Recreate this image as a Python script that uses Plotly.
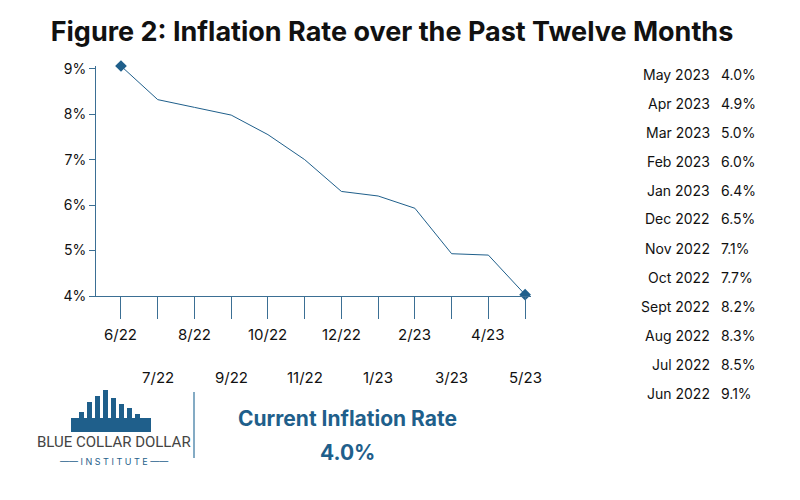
import plotly.graph_objects as go

months = ['6/22', '7/22', '8/22', '9/22', '10/22', '11/22', '12/22', '1/23', '2/23', '3/23', '4/23', '5/23']
rates = [9.06, 8.32, 8.15, 7.98, 7.55, 7.0, 6.3, 6.2, 5.93, 4.93, 4.9, 4.03]

table_labels = ['May 2023', 'Apr 2023', 'Mar 2023', 'Feb 2023', 'Jan 2023', 'Dec 2022',
                'Nov 2022', 'Oct 2022', 'Sept 2022', 'Aug 2022', 'Jul 2022', 'Jun 2022']
table_values = ['4.0%', '4.9%', '5.0%', '6.0%', '6.4%', '6.5%', '7.1%', '7.7%', '8.2%', '8.3%', '8.5%', '9.1%']

blue = '#1f5f8b'
xs = list(range(len(months)))

# plot area in pixels (shifted to compensate for render offset)
DX, DY = -7, -8
L, R, T, B = 95 + DX, 530 + DX, 66 + DY, 296 + DY


def px(x):
    return (x + DX - L) / (R - L)


def py(y):
    return (B - y - DY) / (B - T)


def note(x, y, text, size, color='#111', anchor='center', family=None):
    f = dict(size=size, color=color)
    if family:
        f['family'] = family
    fig.add_annotation(x=px(x), y=py(y), xref='paper', yref='paper', text=text,
                       showarrow=False, xanchor=anchor, yanchor='middle', font=f)


fig = go.Figure()
fig.add_trace(go.Scatter(x=xs, y=rates, mode='lines', line=dict(color=blue, width=1),
                         showlegend=False, cliponaxis=False))
fig.add_trace(go.Scatter(x=[xs[0], xs[-1]], y=[rates[0], rates[-1]], mode='markers',
                         marker=dict(symbol='diamond', size=9, color=blue),
                         showlegend=False, cliponaxis=False))

# alternating x labels
for i, m in enumerate(months):
    fig.add_annotation(x=i, y=0, xref='x', yref='paper', text=m, showarrow=False,
                       xanchor='center', yanchor='top',
                       yshift=-27 if i % 2 == 0 else -70,
                       font=dict(size=15, color='#111'))

# right-side table
for i, (lab, val) in enumerate(zip(table_labels, table_values)):
    yp = 74 + i * 29
    note(711, yp, lab, 14, anchor='right')
    note(718, yp, val, 14, anchor='left')

# logo: simple bar icon
bars = [(78, 412), (86, 402), (94, 396), (102, 390), (110, 398), (118, 404), (126, 408), (134, 414)]
for bx, top in bars:
    fig.add_shape(type='rect', xref='paper', yref='paper', x0=px(bx), x1=px(bx + 5),
                  y0=py(430), y1=py(top), fillcolor=blue, line=dict(width=0))
fig.add_shape(type='rect', xref='paper', yref='paper', x0=px(70), x1=px(150),
              y0=py(432), y1=py(418), fillcolor=blue, line=dict(width=0))
note(113, 442, 'BLUE COLLAR DOLLAR', 15, '#444', family='Liberation Sans Narrow, Roboto')
note(113, 461, '—— I N S T I T U T E ——', 9, blue)
fig.add_shape(type='line', xref='paper', yref='paper', x0=px(193), x1=px(193),
              y0=py(392), y1=py(458), line=dict(color='#5b8fb0', width=1.5))
note(346, 418, '<b>Current Inflation Rate</b>', 21, blue)
note(346, 452, '<b>4.0%</b>', 21, blue)

fig.update_layout(
    width=800, height=500, plot_bgcolor='white', paper_bgcolor='white',
    font=dict(family='Inter, Roboto, sans-serif', color='#111'),
    title=dict(text='<b>Figure 2: Inflation Rate over the Past Twelve Months</b>',
               x=(391 + DX) / 800, xanchor='center', y=1 - (32 + DY) / 500, yanchor='middle',
               font=dict(size=27, color='#111')),
    margin=dict(l=L, r=800 - R, t=T, b=500 - B),
    xaxis=dict(range=[-0.68, 11.16], tickvals=xs, ticktext=['' for _ in xs],
               ticks='outside', ticklen=22, tickcolor='#3b6f94', showgrid=False,
               showline=True, linecolor='#3b6f94', zeroline=False),
    yaxis=dict(range=[4, 9.06], tickvals=[4, 5, 6, 7, 8, 9],
               ticktext=['4%', '5%', '6%', '7%', '8%', '9%'],
               ticks='outside', ticklen=6, tickcolor='#3b6f94', showgrid=False,
               showline=True, linecolor='#3b6f94', zeroline=False,
               tickfont=dict(size=14)),
)

fig.write_html('out.html')
